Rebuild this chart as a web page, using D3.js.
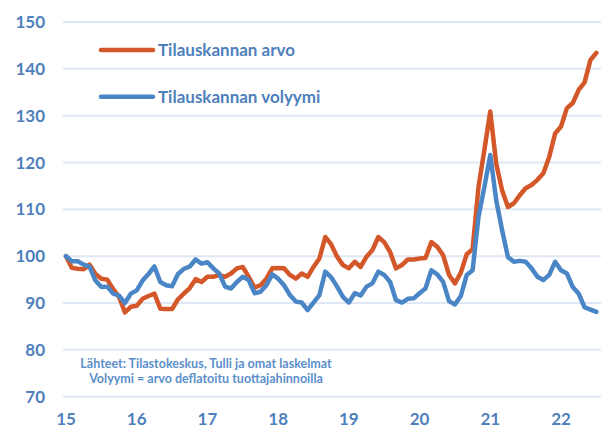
<!DOCTYPE html>
<html>
<head>
<meta charset="utf-8">
<script src="https://cdn.jsdelivr.net/npm/d3@7"></script>
<style>
body { margin: 0; background: #fff; }
text { font-family: Lato, "Open Sans", sans-serif; font-weight: bold; }
</style>
</head>
<body>
<div id="chart"></div>
<script>
var W = 607
var H = 428

var years = [2015, 2016, 2017, 2018, 2019, 2020, 2021, 2022]
var yTicks = [70, 80, 90, 100, 110, 120, 130, 140, 150]
var seriesNames = ['Tilauskannan arvo', 'Tilauskannan volyymi']
var notes = ['Lähteet: Tilastokeskus, Tulli ja omat laskelmat', 'Volyymi = arvo deflatoitu tuottajahinnoilla']

// kuukausittain 1/2015 - 7/2022, 2015 = 100
var arvo = [
	100, 97.5, 97.3, 97.2, 98.2, 96.2, 95.2, 95, 93, 91.3, 88, 89.2,
	89.4, 90.9, 91.5, 92, 88.8, 88.7, 88.7, 90.8, 92, 93.2, 95.1, 94.5,
	95.6, 95.6, 96, 95.6, 96.3, 97.4, 97.7, 95.6, 93.3, 93.8, 95.2, 97.4,
	97.5, 97.4, 96, 95.2, 96.3, 95.6, 97.7, 99.5, 104.1, 102.5, 99.9, 98.1,
	97.4, 98.8, 97.7, 99.9, 101.3, 104.1, 103, 100.9, 97.4, 98.1, 99.3, 99.3,
	99.5, 99.6, 103, 102, 100.2, 96, 94.2, 96.5, 100.4, 101.5, 114.8, 122.7,
	130.9, 119.8, 114.1, 110.5, 111.3, 113, 114.5, 115.2, 116.3, 117.7, 121.2, 126.2,
	127.7, 131.6, 132.7, 135.5, 137.1, 141.9, 143.4
]
var volyymi = [
	100, 98.9, 98.9, 98.2, 97.7, 94.8, 93.4, 93.5, 92, 91.6, 90, 92,
	92.7, 94.8, 96.2, 97.8, 94.5, 93.8, 93.6, 96.2, 97.3, 97.8, 99.3, 98.4,
	98.7, 97.4, 96.3, 93.5, 93.1, 94.5, 95.6, 94.9, 92.1, 92.4, 93.8, 96.1,
	95.2, 93.8, 91.7, 90.3, 90.1, 88.5, 90.1, 91.7, 96.7, 95.5, 93.5, 91.3,
	90.1, 92.1, 91.6, 93.5, 94.2, 96.7, 96, 94.5, 90.6, 90.1, 90.9, 91,
	92.1, 93.1, 97, 96.1, 94.5, 90.4, 89.7, 91.5, 96, 97, 108.4, 114.8,
	121.6, 112, 105.6, 99.8, 98.8, 99, 98.8, 97.4, 95.6, 94.9, 96, 98.8,
	97, 96.3, 93.4, 92, 89.1, 88.6, 88.1
]

var colors = ['#D4572A', '#4A86C6']
var textColor = '#4E80BC'

var x = d3.scaleLinear().domain([2015, 2022]).range([66, 561])
var y = d3.scaleLinear().domain([70, 150]).range([396.7, 22])

var svg = d3.select('#chart').append('svg')
	.attr('width', W)
	.attr('height', H)

// ruudukko
svg.append('g').selectAll('line').data(yTicks).join('line')
	.attr('x1', 63).attr('x2', 601)
	.attr('y1', d => y(d)).attr('y2', d => y(d))
	.style('stroke', '#DEE7F3')
	.style('stroke-width', 2)

svg.append('g').selectAll('text').data(yTicks).join('text')
	.attr('x', 45).attr('y', d => y(d) + 6)
	.attr('text-anchor', 'end')
	.style('font-size', '17px')
	.style('fill', textColor)
	.text(d => d)

svg.append('g').selectAll('text').data(years).join('text')
	.attr('x', d => x(d)).attr('y', 425)
	.attr('text-anchor', 'middle')
	.style('font-size', '17px')
	.style('fill', textColor)
	.text(d => String(d).slice(2))

var line = d3.line()
	.x((d, i) => x(2015 + i / 12))
	.y(d => y(d))
	.curve(d3.curveLinear)

;[arvo, volyymi].forEach((s, i) => {
	svg.append('path').datum(s)
		.attr('d', line)
		.style('fill', 'none')
		.style('stroke', colors[i])
		.style('stroke-width', 4.5)
		.style('stroke-linejoin', 'round')
		.style('stroke-linecap', 'round')
})

// selite
seriesNames.forEach((n, i) => {
	var ly = 50 + i * 46.7
	svg.append('line')
		.attr('x1', 101).attr('x2', 153)
		.attr('y1', ly).attr('y2', ly)
		.style('stroke', colors[i])
		.style('stroke-width', 4.5)
		.style('stroke-linecap', 'round')
	svg.append('text')
		.attr('x', 158).attr('y', ly + 6)
		.style('font-size', '17px')
		.style('fill', textColor)
		.text(n)
})

svg.append('g').selectAll('text').data(notes).join('text')
	.attr('x', 206).attr('y', (d, i) => 368 + i * 15)
	.attr('text-anchor', 'middle')
	.style('font-size', '12.5px')
	.style('fill', '#5B8FCB')
	.text(d => d)
</script>
</body>
</html>
